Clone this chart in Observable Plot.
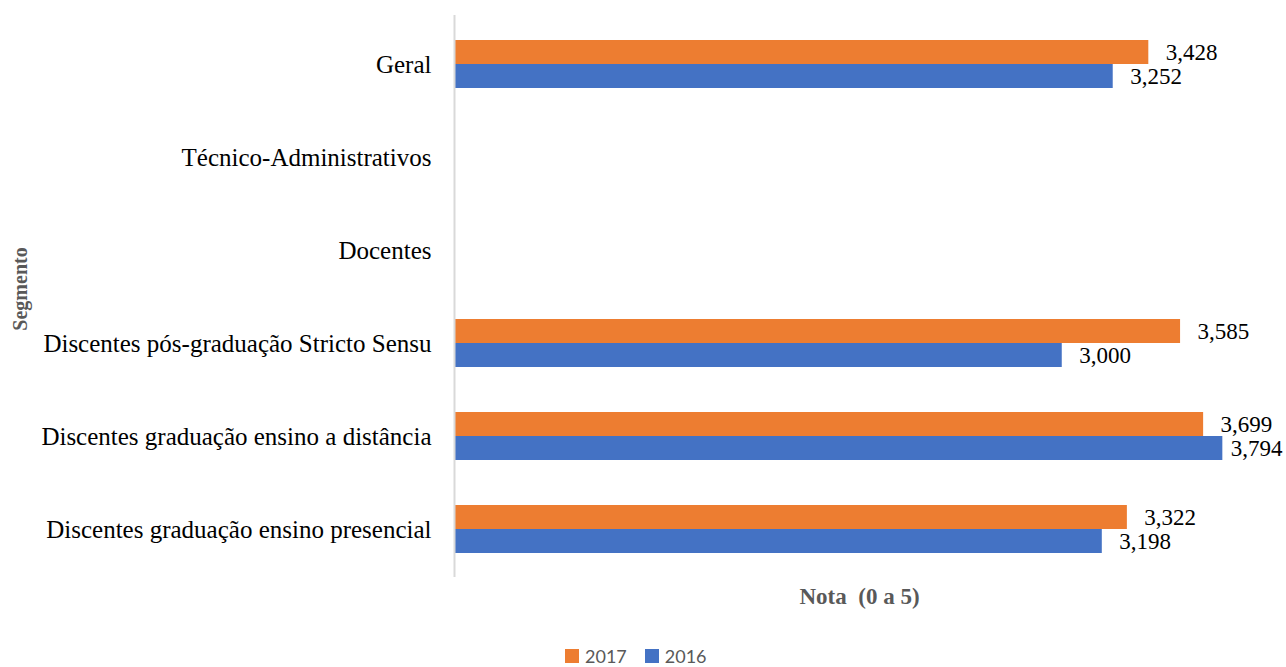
<!DOCTYPE html>
<html><head><meta charset="utf-8">
<script src="https://cdn.jsdelivr.net/npm/d3@7"></script>
<script src="https://cdn.jsdelivr.net/npm/@observablehq/plot@0.6"></script>
<style>
body{margin:0;background:#fff;}
#chart{position:relative;width:1286px;height:667px;overflow:hidden;}
.legend{position:absolute;left:565px;top:647px;display:flex;align-items:center;font-family:Lato,"Open Sans",sans-serif;font-size:18px;color:#595959;line-height:18px;}
.legend .item{display:flex;align-items:center;margin-right:18px;}
.legend .sw{width:14px;height:14px;margin-right:6px;display:inline-block;}
</style></head><body><div id="chart"></div>
<script>
const segments = [
  "Geral",
  "Técnico-Administrativos",
  "Docentes",
  "Discentes pós-graduação Stricto Sensu",
  "Discentes graduação ensino a distância",
  "Discentes graduação ensino presencial"
];
const years = ["2017", "2016"];
const values2017 = [3.428, null, null, 3.585, 3.699, 3.322];
const values2016 = [3.252, null, null, 3.000, 3.794, 3.198];
const colors = ["#ED7D31", "#4472C4"];
const xDomain = [0, 4];

const rows = [];
segments.forEach((s, i) => {
  if (values2017[i] != null) rows.push({segment: s, year: "2017", value: values2017[i]});
  if (values2016[i] != null) rows.push({segment: s, year: "2016", value: values2016[i]});
});
const fmt = v => d3.format(".3f")(v).replace(".", ",");
const shiftAbove = 3.75; // labels that would overflow are pulled closer
const serif = "'Liberation Serif','Times New Roman',serif";

function yearMarks(year, dy) {
  const r = rows.filter(d => d.year === year);
  return [
    Plot.barX(r, {x: "value", y: "segment", fill: "year", dy}),
    Plot.text(r.filter(d => d.value <= shiftAbove), {x: "value", y: "segment", text: d => fmt(d.value), dx: 17, dy, textAnchor: "start", fontSize: 23, fill: "#000"}),
    Plot.text(r.filter(d => d.value > shiftAbove), {x: "value", y: "segment", text: d => fmt(d.value), dx: 8, dy, textAnchor: "start", fontSize: 23, fill: "#000"})
  ];
}

const plot = Plot.plot({
  width: 1286,
  height: 667,
  marginLeft: 455,
  marginRight: 22,
  marginTop: 15,
  marginBottom: 90,
  style: {fontFamily: serif, fontSize: "25px", color: "#000", background: "transparent"},
  x: {domain: xDomain, axis: null},
  y: {domain: segments, paddingInner: 0.744, paddingOuter: 0.372, tickSize: 0, tickPadding: 24, label: null},
  color: {domain: years, range: colors},
  marks: [
    ...yearMarks("2017", -12),
    ...yearMarks("2016", 12),
    Plot.ruleX([0], {stroke: "#d9d9d9", strokeWidth: 2, dx: -1})
  ]
});

const svg = d3.select(plot);
const xs = plot.scale("x");
svg.append("text")
  .attr("transform", "translate(20,289) rotate(-90)")
  .attr("text-anchor", "middle").attr("dominant-baseline", "central")
  .style("font", `bold 20px ${serif}`).attr("fill", "#595959")
  .text("Segmento");
svg.append("text")
  .attr("x", (xs.range[0] + xs.range[1]) / 2).attr("y", 596)
  .attr("text-anchor", "middle").attr("dominant-baseline", "central")
  .style("font", `bold 23px ${serif}`).style("white-space", "pre").attr("fill", "#595959")
  .text("Nota  (0 a 5)");

const chart = document.getElementById("chart");
chart.appendChild(plot);
const legend = document.createElement("div");
legend.className = "legend";
years.forEach((y, i) => {
  const it = document.createElement("span");
  it.className = "item";
  it.innerHTML = `<span class="sw" style="background:${colors[i]}"></span><span>${y}</span>`;
  legend.appendChild(it);
});
chart.appendChild(legend);
</script></body></html>
